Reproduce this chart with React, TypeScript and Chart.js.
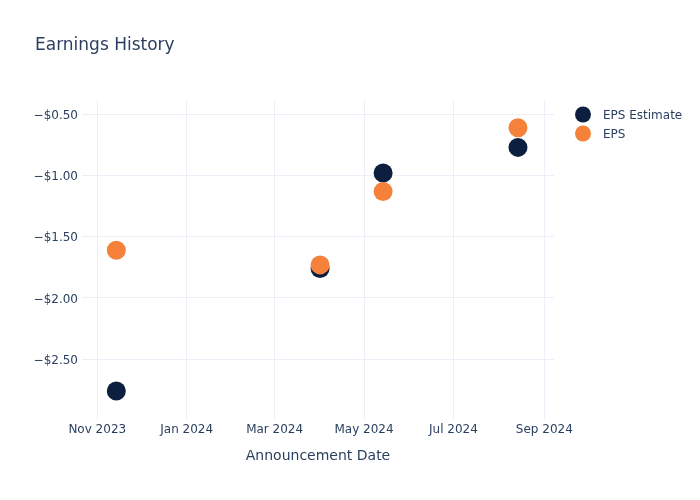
import React, { useEffect, useRef } from "react";
import { Chart, registerables } from "chart.js";
Chart.register(...registerables);

const chartTitle = "Earnings History";
const xAxisTitle = "Announcement Date";
const dates = ["2023-11-14", "2024-04-01", "2024-05-14", "2024-08-14"];
const epsEstimate = [-2.76, -1.76, -0.98, -0.77];
const epsActual = [-1.61, -1.73, -1.13, -0.61];
const xTickDates = ["2023-11-01", "2024-01-01", "2024-03-01", "2024-05-01", "2024-07-01", "2024-09-01"];
const yTicks = [-2.5, -2.0, -1.5, -1.0, -0.5];
const xRange = ["2023-10-21T14:00:00Z", "2024-09-07T14:00:00Z"];
const yRange = [-2.997, -0.383];
const seriesNames = ["EPS Estimate", "EPS"];
const seriesColors = ["#0c1f3f", "#f5813a"];

const MONTHS = ["Jan", "Feb", "Mar", "Apr", "May", "Jun", "Jul", "Aug", "Sep", "Oct", "Nov", "Dec"];
const FONT = "'DejaVu Sans', Verdana, sans-serif";
const TEXT = "#2a3f5f";
const GRID = "#ebf0f8";

function fmtDate(ms: number) {
  const d = new Date(ms);
  return MONTHS[d.getUTCMonth()] + " " + d.getUTCFullYear();
}
function fmtMoney(v: number) {
  const s = "$" + Math.abs(v).toFixed(2);
  return v < 0 ? "\u2212" + s : s;
}

const overlayPlugin = {
  id: "overlay",
  afterDraw(chart: any) {
    const ctx = chart.ctx;
    ctx.save();
    ctx.fillStyle = TEXT;
    ctx.font = `17px ${FONT}`;
    ctx.textAlign = "left";
    ctx.textBaseline = "alphabetic";
    ctx.fillText(chartTitle, 35, 50);
    ctx.font = `12px ${FONT}`;
    chart.data.datasets.forEach((ds: any, i: number) => {
      const y = 114.5 + i * 19;
      ctx.beginPath();
      ctx.arc(583, y, 8, 0, Math.PI * 2);
      ctx.fillStyle = ds.backgroundColor;
      ctx.fill();
      ctx.fillStyle = TEXT;
      ctx.fillText(ds.label, 603, y + 4.5);
    });
    ctx.restore();
  },
};

export default function App() {
  const ref = useRef<HTMLCanvasElement>(null);
  useEffect(() => {
    if (!ref.current) return;
    const toPts = (vals: number[]) => vals.map((v, i) => ({ x: Date.parse(dates[i]), y: v }));
    const chart = new Chart(ref.current, {
      type: "scatter",
      data: {
        datasets: [
          {
            label: seriesNames[0],
            data: toPts(epsEstimate),
            backgroundColor: seriesColors[0],
            borderColor: seriesColors[0],
            borderWidth: 0,
            pointRadius: 9.5,
            order: 2,
          },
          {
            label: seriesNames[1],
            data: toPts(epsActual),
            backgroundColor: seriesColors[1],
            borderColor: seriesColors[1],
            borderWidth: 0,
            pointRadius: 9.5,
            order: 1,
          },
        ],
      },
      options: {
        responsive: false,
        animation: false,
        layout: { padding: { top: 100, right: 146, bottom: 0, left: 0 } },
        plugins: { legend: { display: false }, title: { display: false }, tooltip: { enabled: false } },
        scales: {
          x: {
            type: "linear",
            min: Date.parse(xRange[0]),
            max: Date.parse(xRange[1]),
            border: { display: false },
            grid: { color: GRID, drawTicks: false, lineWidth: 1 },
            afterBuildTicks: (axis: any) => {
              axis.ticks = xTickDates.map((d) => ({ value: Date.parse(d) }));
            },
            afterFit: (axis: any) => {
              axis.height = 80;
            },
            ticks: {
              color: TEXT,
              font: { family: FONT, size: 12 },
              padding: 3,
              maxRotation: 0,
              autoSkip: false,
              callback: (v: any) => fmtDate(Number(v)),
            },
            title: {
              display: true,
              text: xAxisTitle,
              color: TEXT,
              font: { family: FONT, size: 14 },
              padding: { top: 0, bottom: 35 },
            },
          },
          y: {
            type: "linear",
            min: yRange[0],
            max: yRange[1],
            border: { display: false },
            grid: { color: GRID, drawTicks: false, lineWidth: 1 },
            afterBuildTicks: (axis: any) => {
              axis.ticks = yTicks.map((v) => ({ value: v }));
            },
            afterFit: (axis: any) => {
              axis.width = 82;
            },
            ticks: {
              color: TEXT,
              font: { family: FONT, size: 12 },
              padding: 4,
              labelOffset: 1.5,
              autoSkip: false,
              callback: (v: any) => fmtMoney(Number(v)),
            },
          },
        },
      },
      plugins: [overlayPlugin],
    });
    return () => chart.destroy();
  }, []);
  return (
    <div style={{ position: "absolute", left: 0, top: 0, width: 700, height: 500, background: "#fff" }}>
      <canvas ref={ref} width={700} height={500} />
    </div>
  );
}
